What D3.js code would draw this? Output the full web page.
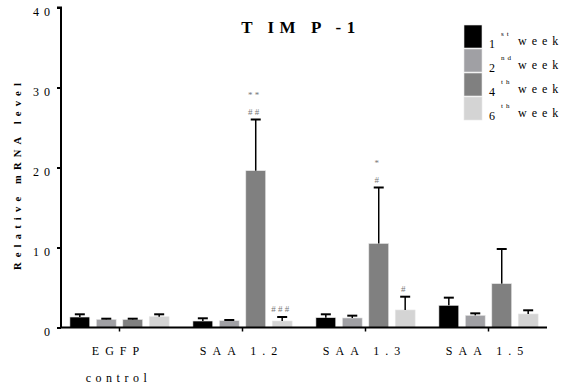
<!DOCTYPE html>
<html>
<head>
<meta charset="utf-8">
<script src="https://cdn.jsdelivr.net/npm/d3@7"></script>
<style>
  html, body { margin: 0; padding: 0; background: #fff; }
  svg { display: block; }
</style>
</head>
<body>
<svg id="chart" width="567" height="391"></svg>
<script>
  var groups = ['EGFP', 'SAA 1.2', 'SAA 1.3', 'SAA 1.5'];
  var weeks = ['1st', '2nd', '4th', '6th'];
  var weekNums = ['1', '2', '4', '6'];
  var weekSups = ['st', 'nd', 'th', 'th'];
  var weekColors = ['#000000', '#a0a0a4', '#808080', '#d4d4d4'];
  // mean per group, one list per week
  var week1 = [1.31, 0.81, 1.23, 2.77];
  var week2 = [1.02, 0.85, 1.19, 1.52];
  var week4 = [1.00, 19.6, 10.5, 5.48];
  var week6 = [1.35, 0.81, 2.19, 1.69];
  // upper error (top of whisker)
  var err1 = [1.65, 1.15, 1.65, 3.73];
  var err2 = [1.10, 0.94, 1.48, 1.77];
  var err4 = [1.10, 26.0, 17.5, 9.81];
  var err6 = [1.65, 1.31, 3.85, 2.15];
  var yTicks = [0, 10, 20, 30, 40];
  // significance marks: group, week, lines (top first)
  var marks = [
    { g: 1, w: 2, lines: ['* *', '# #'] },
    { g: 1, w: 3, lines: ['# # #'] },
    { g: 2, w: 2, lines: ['*', '#'] },
    { g: 2, w: 3, lines: ['#'] }
  ];

  var means = [week1, week2, week4, week6];
  var errs = [err1, err2, err4, err6];
  var data = [];
  groups.forEach(function(g, gi) {
    weeks.forEach(function(w, wi) {
      data.push({ g: g, gi: gi, w: w, wi: wi, v: means[wi][gi], e: errs[wi][gi] });
    });
  });

  var SERIF = '"Liberation Serif"';
  var svg = d3.select('#chart');
  var axisLeft = 61, axisRight = 547;

  function label(sel) {
    return sel.style('font-family', SERIF);
  }

  var y = d3.scaleLinear().domain([0, 40]).range([327.5, 7.5]);
  var x0 = d3.scaleBand().domain(groups).range([58, 550]);
  var x1 = d3.scaleBand().domain(weeks).range([0, x0.bandwidth()])
    .paddingInner(0.25).paddingOuter(0.45);

  // bars
  var bar = svg.append('g').selectAll('g').data(data).enter().append('g')
    .attr('transform', function(d) { return 'translate(' + (x0(d.g) + x1(d.w)) + ',0)'; });

  bar.append('rect')
    .attr('x', 0)
    .attr('y', function(d) { return y(d.v); })
    .attr('width', x1.bandwidth())
    .attr('height', function(d) { return y(0) - y(d.v); })
    .attr('fill', function(d) { return weekColors[d.wi]; })
    .attr('stroke', '#e6e6e6')
    .attr('stroke-width', 0.6);

  var cx = x1.bandwidth() / 2;
  bar.append('line')
    .attr('x1', cx).attr('x2', cx)
    .attr('y1', function(d) { return y(d.v); })
    .attr('y2', function(d) { return y(d.e); })
    .attr('stroke', '#000').attr('stroke-width', 1.5);
  bar.append('line')
    .attr('x1', cx - 5).attr('x2', cx + 5)
    .attr('y1', function(d) { return y(d.e); })
    .attr('y2', function(d) { return y(d.e); })
    .attr('stroke', '#000').attr('stroke-width', 2);

  // significance marks
  marks.forEach(function(m) {
    var d = data[m.g * 4 + m.w];
    var mx = x0(d.g) + x1(d.w) + cx - 2;
    var top = y(d.e) - 5 - (m.lines.length - 1) * 17;
    m.lines.forEach(function(t, i) {
      svg.append('text')
        .attr('x', mx).attr('y', top + i * 17)
        .attr('text-anchor', 'middle')
        .attr('font-size', 9).attr('fill', '#777')
        .call(label)
        .text(t);
    });
  });

  // y axis
  var yAxis = svg.append('g').attr('transform', 'translate(' + axisLeft + ',0)')
    .call(d3.axisLeft(y).tickValues(yTicks).tickSize(4).tickFormat(function(d) { return d; }));
  yAxis.select('.domain').attr('stroke-width', 2).attr('d', 'M-4,' + y(40) + 'H0V' + y(0));
  yAxis.selectAll('.tick line').attr('stroke-width', 2);
  yAxis.selectAll('.tick text')
    .call(label)
    .attr('font-size', 12).attr('fill', '#000')
    .attr('letter-spacing', 5).attr('x', -6).attr('dy', '0.7em');

  // x axis
  var xAxis = svg.append('g').attr('transform', 'translate(0,' + y(0) + ')')
    .call(d3.axisBottom(x0).tickSize(4).tickFormat(''));
  xAxis.select('.domain').attr('stroke-width', 2).attr('d', 'M' + axisLeft + ',0H' + axisRight);
  xAxis.selectAll('.tick line').attr('stroke-width', 1.5);

  var xLabels = svg.append('g');
  groups.forEach(function(g) {
    xLabels.append('text')
      .attr('x', x0(g) + x0.bandwidth() / 2 - 1)
      .attr('y', 355)
      .attr('text-anchor', 'middle')
      .attr('font-size', 12)
      .attr('letter-spacing', 6)
      .call(label)
      .text(g === 'EGFP' ? 'EGFP' : g.replace(' ', '  '));
  });
  xLabels.append('text')
    .attr('x', x0(groups[0]) + x0.bandwidth() / 2 - 1)
    .attr('y', 382)
    .attr('text-anchor', 'middle')
    .attr('font-size', 12)
    .attr('letter-spacing', 4.5)
    .call(label)
    .text('control');

  // y label
  svg.append('text')
    .attr('transform', 'translate(21,174) rotate(-90)')
    .attr('text-anchor', 'middle')
    .attr('font-size', 10.5).attr('font-weight', 'bold')
    .attr('letter-spacing', 5.2)
    .call(label)
    .text('Relative  mRNA  level');

  // title
  svg.append('text')
    .attr('x', 301).attr('y', 33)
    .attr('text-anchor', 'middle')
    .attr('font-size', 17).attr('font-weight', 'bold')
    .attr('letter-spacing', 5.5)
    .call(label)
    .text('T IM P -1');

  // legend
  var legend = svg.append('g');
  weeks.forEach(function(w, i) {
    var ly = 25 + i * 24;
    legend.append('rect')
      .attr('x', 464).attr('y', ly)
      .attr('width', 18).attr('height', 23)
      .attr('fill', weekColors[i])
      .attr('stroke', '#e6e6e6').attr('stroke-width', 0.6);
    legend.append('text')
      .attr('x', 489).attr('y', ly + 23)
      .attr('font-size', 12)
      .call(label)
      .text(weekNums[i]);
    legend.append('text')
      .attr('x', 501).attr('y', ly + 11)
      .attr('font-size', 7).attr('letter-spacing', 3)
      .call(label)
      .text(weekSups[i]);
    legend.append('text')
      .attr('x', 518).attr('y', ly + 20)
      .attr('font-size', 12).attr('letter-spacing', 5)
      .call(label)
      .text('week');
  });
</script>
</body>
</html>
